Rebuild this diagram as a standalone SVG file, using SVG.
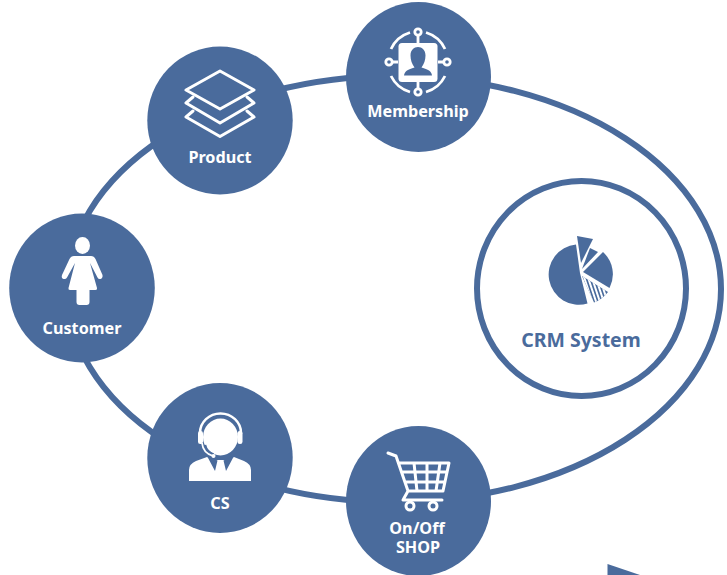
<svg xmlns="http://www.w3.org/2000/svg" width="727" height="575" viewBox="0 0 727 575">
<style>
.disc{fill:#4a6b9c}
.lbl{font-family:"Noto Sans","Open Sans",sans-serif;font-weight:700;font-size:16.2px;fill:#fff;text-anchor:middle}
.ln{fill:none;stroke:#fff;stroke-width:3;stroke-linejoin:round;stroke-linecap:round}
.fw{fill:#fff}
.blue{fill:#4a6b9c}
</style>
<defs>
<clipPath id="hatch"><path d="M582 276L608 292A31 31 0 0 1 594 302.500Z"/></clipPath>
</defs>
<rect width="727" height="575" fill="#fff"/>
<g id="connectors">
<ellipse cx="394" cy="289" rx="327" ry="213" fill="none" stroke="#4a6b9c" stroke-width="6"/>
</g>
<g id="membership">
<ellipse class="disc" cx="418.500" cy="77" rx="72.500" ry="75"/>
<g fill="none" stroke="#fff" stroke-width="2.800">
<path d="M391 49A31 31 0 0 1 410 32.500M426 32.500A31 31 0 0 1 445 49M445 76A31 31 0 0 1 426 92M410 92A31 31 0 0 1 391 76"/>
<path d="M418 36V43M418 82V89M392 62H398M438 62H444"/>
<circle cx="418" cy="32" r="3.200"/><circle cx="418" cy="92" r="3.200"/><circle cx="389" cy="62" r="3.200"/><circle cx="447" cy="62" r="3.200"/>
</g>
<rect class="fw" x="398.500" y="43" width="39" height="39" rx="3.500"/>
<path class="blue" d="M404 75.500C404.500 71 408 69.500 414.500 67.500C412 64 410.500 60 410.500 55.500C410.500 50 414 47 418 47C422 47 425.500 50 425.500 55.500C425.500 60 424 64 421.500 67.500C428 69.500 431.500 71 432 75.500Z"/>
<text class="lbl" x="418" y="117">Membership</text>
</g>
<g id="product">
<ellipse class="disc" cx="220" cy="120.500" rx="72.700" ry="74"/>
<path class="ln" d="M220 71L254 90L220 109L186 90Z"/>
<path class="ln" d="M193 97L186 103L220 123L254 103L247 97"/>
<path class="ln" d="M193 111L186 117L220 136.500L254 117L247 111"/>
<text class="lbl" x="220" y="162.500">Product</text>
</g>
<g id="customer">
<ellipse class="disc" cx="82" cy="288" rx="72.800" ry="74.500"/>
<ellipse class="fw" cx="82.500" cy="245.500" rx="7.500" ry="8.500"/>
<path class="fw" d="M74 256H91Q94 256 95.500 259L102.500 275Q103 278 100.500 279Q98.500 279.500 97.500 277.500L90 263L97 288Q97.500 290 95.500 290H89.500V302Q89.500 305 86.500 305H79.500Q76.500 305 76.500 302V290H70Q68 290 68.500 288L75 263L67 277.500Q66 279.500 63.500 279Q61 278 62 275L69.500 259Q71 256 74 256Z"/>
<text class="lbl" x="82" y="334">Customer</text>
</g>
<g id="cs">
<ellipse class="disc" cx="220" cy="458" rx="72.700" ry="75"/>
<ellipse class="fw" cx="220.500" cy="437" rx="17.500" ry="18.500"/>
<path fill="none" stroke="#fff" stroke-width="2.500" d="M200 433A20.500 19.500 0 0 1 241 433"/>
<rect class="fw" x="198" y="431" width="5" height="13" rx="2.300"/>
<rect class="fw" x="237.500" y="431" width="5" height="13" rx="2.300"/>
<path fill="none" stroke="#4a6b9c" stroke-width="3.500" d="M204.500 445Q206 452 213.500 455"/>
<path fill="none" stroke="#fff" stroke-width="1.800" d="M202 443Q203 453 213 456"/>
<circle class="fw" cx="213.500" cy="456" r="2"/>
<path class="fw" d="M189 481V470Q189 464 196 461L207 457L213 460H228L234 457L244 461Q251 464 251 470V481Z"/>
<path class="blue" d="M207 456L215 471L217.500 460.500ZM234 456L226 471L223.500 460.500Z"/>
<text class="lbl" x="220" y="509">CS</text>
</g>
<g id="shop">
<ellipse class="disc" cx="418.500" cy="501" rx="72.500" ry="75"/>
<path class="ln" d="M388 453L396 456L408 491H443M399 463H449L443 491M403 472H447M405.500 482H445M414 463L417 491M427 463V491M440 463L436 491M408 491L403 500H442"/>
<circle cx="410" cy="506" r="4" fill="none" stroke="#fff" stroke-width="3"/>
<circle cx="433" cy="506" r="4" fill="none" stroke="#fff" stroke-width="3"/>
<text class="lbl" text-anchor="middle"><tspan x="417" y="534">On/Off</tspan><tspan x="418" y="553">SHOP</tspan></text>
</g>
<g id="crm-system">
<ellipse cx="581.500" cy="288.500" rx="104.500" ry="107.500" fill="#fff" stroke="#4a6b9c" stroke-width="6"/>
<path class="blue" d="M576 244.500A30.200 30.200 0 1 0 587.500 303.500L580 273Z"/>
<path class="blue" d="M577 236L593 239L581 263Z"/>
<path class="blue" d="M590 248L598 252L582 269Z"/>
<path class="blue" d="M603 252A30 30 0 0 1 609.500 288L583 272Z"/>
<path class="blue" d="M582 276L608 292A31 31 0 0 1 594 302.500Z"/>
<g clip-path="url(#hatch)"><path fill="none" stroke="#fff" stroke-width="2" d="M583 274L593 304M587.500 276L597.500 306M592 278L602 308M596.500 280L606.500 310M601 282L611 312"/></g>
<text x="581" y="347" font-family="'Noto Sans','Open Sans',sans-serif" font-weight="700" font-size="19.500" fill="#4a6b9c" text-anchor="middle">CRM System</text>
</g>
<polygon class="blue" points="607.500,564 640,575 607.500,575"/>
</svg>
